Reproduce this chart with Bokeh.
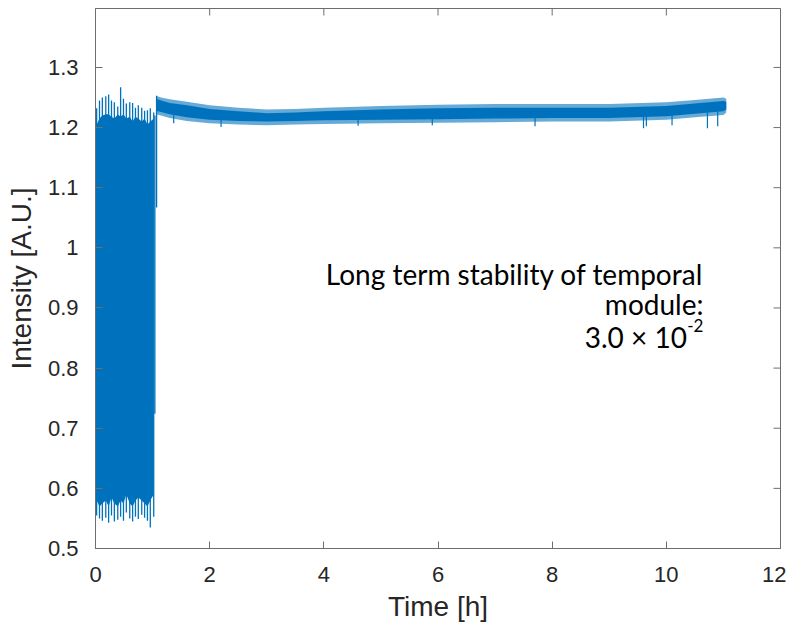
import math
from bokeh.plotting import figure
from bokeh.models import Range1d, FixedTicker, Label
from bokeh.embed import file_html
from bokeh.resources import INLINE

# ---- data ----
# first hour: strongly fluctuating signal (spike extremes and solid core)
noisy_t = [0.02, 0.07, 0.12, 0.18, 0.23, 0.28, 0.33, 0.39, 0.44, 0.49,
           0.54, 0.60, 0.65, 0.70, 0.75, 0.81, 0.86, 0.91, 0.96, 1.02]
noisy_hi = [1.232, 1.245, 1.250, 1.252, 1.255, 1.245, 1.242, 1.235, 1.267, 1.248,
            1.240, 1.242, 1.241, 1.233, 1.237, 1.233, 1.228, 1.229, 1.232, 1.225]
noisy_lo = [0.555, 0.550, 0.546, 0.551, 0.543, 0.555, 0.545, 0.548, 0.553, 0.546,
            0.560, 0.550, 0.545, 0.553, 0.549, 0.556, 0.551, 0.546, 0.535, 0.553]
core_hi = [1.205, 1.215, 1.220, 1.222, 1.222, 1.218, 1.215, 1.222, 1.218, 1.222,
           1.215, 1.218, 1.210, 1.218, 1.215, 1.210, 1.215, 1.205, 1.210, 1.215]
core_lo = [0.580, 0.570, 0.575, 0.580, 0.570, 0.585, 0.575, 0.570, 0.580, 0.575,
           0.590, 0.575, 0.570, 0.580, 0.585, 0.580, 0.575, 0.570, 0.580, 0.590]

# transition excursions at the end of the first hour
trans_t = [1.04, 1.07]
trans_lo = [0.724, 1.067]
trans_hi = [1.220, 1.253]

# stable part: outer envelope of the noise band
stable_t = [1.06, 1.15, 1.3, 1.6, 2.0, 2.5, 3.0, 3.5, 4.0, 5.0, 6.0,
            7.0, 8.0, 9.0, 10.0, 10.5, 11.0, 11.05]
stable_hi = [1.253, 1.250, 1.247, 1.243, 1.237, 1.233, 1.230, 1.231, 1.233, 1.236,
             1.238, 1.239, 1.239, 1.239, 1.242, 1.246, 1.250, 1.248]
stable_lo = [1.222, 1.220, 1.216, 1.211, 1.207, 1.205, 1.204, 1.205, 1.206, 1.207,
             1.208, 1.209, 1.210, 1.210, 1.213, 1.217, 1.221, 1.225]
# dense middle of the band
dense_hi = [1.248, 1.245, 1.241, 1.237, 1.231, 1.227, 1.224, 1.225, 1.227, 1.230,
            1.232, 1.233, 1.233, 1.233, 1.236, 1.240, 1.244, 1.243]
dense_lo = [1.228, 1.226, 1.222, 1.217, 1.213, 1.211, 1.210, 1.211, 1.212, 1.213,
            1.214, 1.215, 1.216, 1.216, 1.219, 1.223, 1.227, 1.230]

# isolated downward spikes in the stable part
spike_t = [1.37, 2.2, 4.6, 5.9, 7.7, 9.6, 9.65, 10.1, 10.72, 10.9]
spike_lo = [1.207, 1.201, 1.203, 1.204, 1.202, 1.199, 1.202, 1.204, 1.199, 1.202]
spike_hi = [1.225, 1.220, 1.220, 1.222, 1.224, 1.225, 1.225, 1.228, 1.232, 1.234]

x_min, x_max = 0, 12
y_min, y_max = 0.5, 1.398
x_ticks = [0, 2, 4, 6, 8, 10, 12]
y_ticks = [0.5, 0.6, 0.7, 0.8, 0.9, 1.0, 1.1, 1.2, 1.3]
y_tick_labels = {0.5: "0.5", 0.6: "0.6", 0.7: "0.7", 0.8: "0.8", 0.9: "0.9",
                 1.0: "1", 1.1: "1.1", 1.2: "1.2", 1.3: "1.3"}

BLUE = "#0072BD"
AX = "#6e6e6e"
TXT = "#262626"
FONT = "Liberation Sans"

p = figure(width=786, height=630, x_range=Range1d(x_min, x_max), y_range=Range1d(y_min, y_max),
           output_backend="svg", toolbar_location=None,
           min_border_left=95, min_border_right=6, min_border_top=8, min_border_bottom=82)
p.xgrid.visible = False
p.ygrid.visible = False
p.outline_line_color = AX
p.outline_line_width = 1
p.background_fill_color = "white"
p.border_fill_color = "white"

# data
p.varea(x=noisy_t, y1=core_lo, y2=core_hi, fill_color=BLUE)
p.segment(x0=noisy_t, y0=noisy_lo, x1=noisy_t, y1=noisy_hi, line_color=BLUE, line_width=1.3)
p.segment(x0=trans_t, y0=trans_lo, x1=trans_t, y1=trans_hi, line_color=BLUE, line_width=1.3)
p.varea(x=stable_t, y1=stable_lo, y2=stable_hi, fill_color=BLUE, fill_alpha=0.6)
p.varea(x=stable_t, y1=dense_lo, y2=dense_hi, fill_color=BLUE)
p.segment(x0=spike_t, y0=spike_lo, x1=spike_t, y1=spike_hi, line_color=BLUE, line_width=1.2)

# mirrored inward ticks on the top and right edges of the box
p.scatter(x=[x_max] * len(y_ticks), y=y_ticks, marker="dash", size=14, line_color=AX, line_width=1)
p.scatter(x=x_ticks, y=[y_max] * len(x_ticks), marker="dash", size=14, angle=math.pi / 2,
          line_color=AX, line_width=1)

for ax in (p.xaxis[0], p.yaxis[0]):
    ax.axis_line_color = AX
    ax.major_tick_line_color = AX
    ax.major_tick_in = 7
    ax.major_tick_out = 0
    ax.minor_tick_line_color = None
    ax.major_label_text_font = FONT
    ax.major_label_text_font_size = "22px"
    ax.major_label_text_color = TXT
    ax.axis_label_text_font = FONT
    ax.axis_label_text_font_size = "28px"
    ax.axis_label_text_font_style = "normal"
    ax.axis_label_text_color = TXT

p.xaxis[0].ticker = FixedTicker(ticks=x_ticks)
p.yaxis[0].ticker = FixedTicker(ticks=y_ticks)
p.yaxis[0].major_label_overrides = y_tick_labels
p.xaxis[0].axis_label = "Time [h]"
p.yaxis[0].axis_label = "Intensity [A.U.]"
p.xaxis[0].major_label_standoff = 18
p.xaxis[0].axis_label_standoff = 6
p.yaxis[0].major_label_standoff = 17
p.yaxis[0].axis_label_standoff = 8

# annotation
ann_font = "Lato"
AFS = "28px"
p.add_layout(Label(x=10.65, y=0.957, text="Long term stability of temporal", text_align="right",
                   text_baseline="alphabetic", text_font=ann_font, text_font_size=AFS, text_color="black"))
p.add_layout(Label(x=10.65, y=0.907, text="module:", text_align="right",
                   text_baseline="alphabetic", text_font=ann_font, text_font_size=AFS, text_color="black"))
p.add_layout(Label(x=10.36, y=0.852, text="3.0 \u00d7 10", text_align="right",
                   text_baseline="alphabetic", text_font=ann_font, text_font_size=AFS, text_color="black"))
p.add_layout(Label(x=10.65, y=0.871, text="-2", text_align="right",
                   text_baseline="alphabetic", text_font=ann_font, text_font_size="17px", text_color="black"))

open("out.html", "w").write(file_html(p, INLINE))
